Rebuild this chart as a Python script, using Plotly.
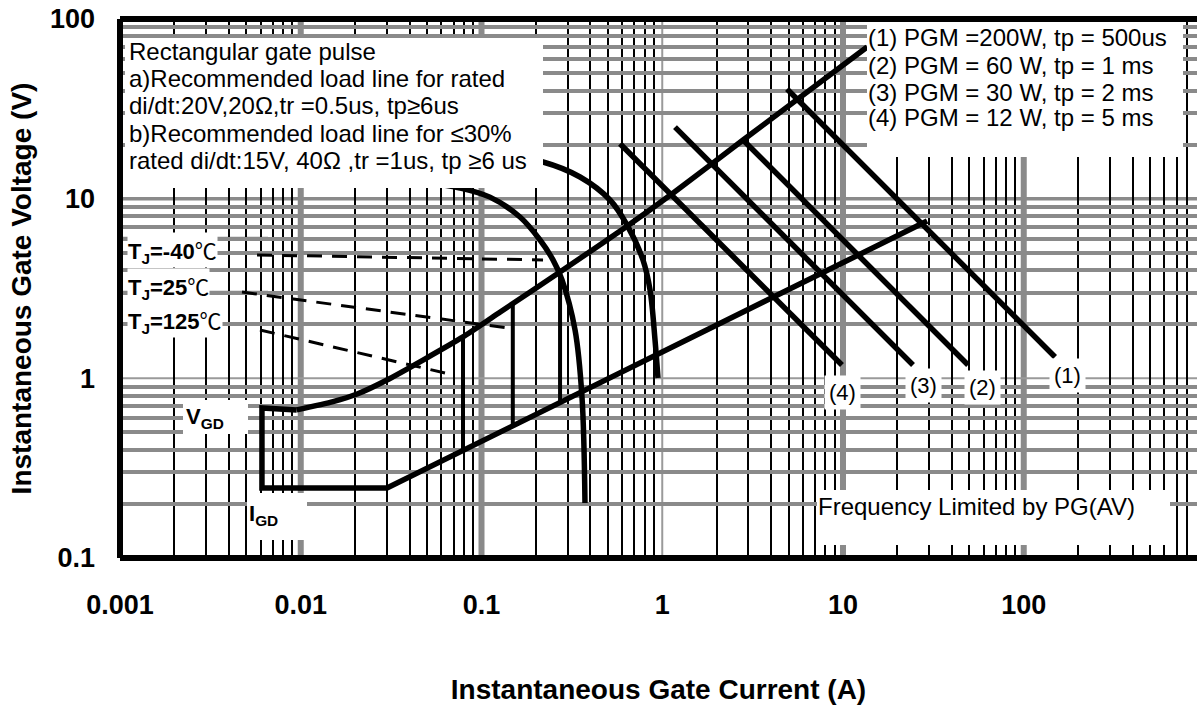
import math
import plotly.graph_objects as go

# ---------------- axis ticks ----------------
x_tick_vals = [0.001, 0.01, 0.1, 1, 10, 100]
x_tick_text = ["0.001", "0.01", "0.1", "1", "10", "100"]
y_tick_vals = [0.1, 1, 10, 100]
y_tick_text = ["0.1", "1", "10", "100"]
x_decades = [-3, -2, -1, 0, 1, 2]
y_decades = [-1, 0, 1]
minor_mults = [2, 3, 4, 5, 6, 7, 8, 9]
x_heavy_lines = [0.01, 0.1, 10, 100]
x_light_lines = [1]
y_heavy_lines = [10]
y_light_lines = [1]

# ---------------- gate characteristic ----------------
# outline: lower boundary, I_GD floor, V_GD wall
gate_low_I = [29.2, 0.030, 0.0061, 0.0061, 0.0095]
gate_low_V = [7.51, 0.245, 0.245, 0.684, 0.667]
# upper boundary curve
gate_up_I = [0.0095, 0.0151, 0.0205, 0.030, 0.079, 0.127, 0.282, 0.607, 1.15, 2.80, 13.6]
gate_up_V = [0.667, 0.742, 0.818, 0.979, 1.70, 2.34, 4.01, 6.78, 10.75, 21.2, 69.9]

# temperature boundaries inside the characteristic
tj_I = [0.079, 0.149, 0.272]
tj_V_top = [1.70, 2.60, 3.95]
tj_V_bottom = [0.40, 0.545, 0.734]

tj_temps = ["-40", "25", "125"]
tj_lead_I_start = [0.00573, 0.00473, 0.00595]
tj_lead_V_start = [4.86, 3.02, 1.858]
tj_lead_I_end = [0.219, 0.140, 0.0628]
tj_lead_V_end = [4.56, 1.906, 1.071]

# ---------------- recommended load lines ----------------
load_a_I = [0.127, 0.219, 0.351, 0.514, 0.638, 0.782, 0.856, 0.912, 0.947]
load_a_V = [17.5, 16.0, 13.2, 9.83, 7.14, 4.56, 3.10, 1.635, 1.005]
load_b_I = [0.0457, 0.0760, 0.1114, 0.1633, 0.2108, 0.2486, 0.2789, 0.3293, 0.3597, 0.3737]
load_b_V = [12.4, 11.47, 10.2, 7.91, 5.89, 4.56, 3.53, 1.858, 0.787, 0.2024]

# ---------------- peak gate power lines ----------------
pgm_labels = ["(1)", "(2)", "(3)", "(4)"]
pgm_legend = ["(1) PGM =200W, tp = 500us", "(2) PGM = 60 W, tp = 1 ms",
              "(3) PGM = 30 W, tp = 2 ms", "(4) PGM = 12 W, tp = 5 ms"]
pgm_I_start = [4.90, 2.80, 1.176, 0.584]
pgm_V_start = [40.8, 21.2, 25.0, 20.2]
pgm_I_end = [149.0, 49.2, 24.4, 9.87]
pgm_V_end = [1.315, 1.186, 1.186, 1.186]

note_lines = ["Rectangular gate pulse",
              "a)Recommended load line for rated",
              "di/dt:20V,20Ω,tr =0.5us, tp≥6us",
              "b)Recommended load line for ≤30%",
              "rated di/dt:15V, 40Ω ,tr =1us, tp ≥6 us"]
freq_text = "Frequency Limited by PG(AV)"

# ---------------- layout geometry ----------------
W, H = 1197, 707
L, R, T, B = 120, 0, 19, 149
PW, PH = W - L - R, H - T - B
X_DEC = 180.75


def px_x(p):
    return (p - L) / PW


def px_y(p):
    return (H - B - p) / PH


FONT = "Liberation Sans, Arial, sans-serif"
GRAY = "#8a8a8a"
LW = 5.5
x_minor = [m * 10.0 ** k for k in x_decades for m in minor_mults]
y_minor = [m * 10.0 ** k for k in y_decades for m in minor_mults]

fig = go.Figure()

line_style = dict(color="black", width=LW)

fig.add_trace(go.Scatter(x=gate_low_I, y=gate_low_V, mode="lines", line=line_style,
                         hoverinfo="skip"))
fig.add_trace(go.Scatter(x=gate_up_I, y=gate_up_V, mode="lines",
                         line=dict(color="black", width=LW, shape="spline", smoothing=0.6),
                         hoverinfo="skip"))

vx, vy = [], []
for i, tv, bv in zip(tj_I, tj_V_top, tj_V_bottom):
    vx += [i, i, None]
    vy += [tv, bv, None]
fig.add_trace(go.Scatter(x=vx, y=vy, mode="lines", line=dict(color="black", width=4),
                         hoverinfo="skip"))

for xs, ys, xe, ye in zip(tj_lead_I_start, tj_lead_V_start, tj_lead_I_end, tj_lead_V_end):
    fig.add_trace(go.Scatter(x=[xs, xe], y=[ys, ye], mode="lines",
                             line=dict(color="black", width=3, dash="15px,10px"),
                             hoverinfo="skip"))

fig.add_trace(go.Scatter(x=load_a_I, y=load_a_V, mode="lines",
                         line=dict(color="black", width=LW, shape="spline"), hoverinfo="skip"))
fig.add_trace(go.Scatter(x=load_b_I, y=load_b_V, mode="lines",
                         line=dict(color="black", width=LW, shape="spline"), hoverinfo="skip"))

for xs, ys, xe, ye in zip(pgm_I_start, pgm_V_start, pgm_I_end, pgm_V_end):
    fig.add_trace(go.Scatter(x=[xs, xe], y=[ys, ye], mode="lines", line=line_style,
                             hoverinfo="skip"))

shapes = []
# decade grid lines
for v in x_heavy_lines:
    shapes.append(dict(type="line", xref="x", yref="paper", x0=v, x1=v, y0=0, y1=1,
                       line=dict(color=GRAY, width=6), layer="below"))
for v in x_light_lines:
    shapes.append(dict(type="line", xref="x", yref="paper", x0=v, x1=v, y0=0, y1=1,
                       line=dict(color="#9a9a9a", width=2), layer="below"))
for v in y_heavy_lines:
    shapes.append(dict(type="line", xref="paper", yref="y", x0=0, x1=1, y0=v, y1=v,
                       line=dict(color=GRAY, width=3.5), layer="below"))
for v in y_light_lines:
    shapes.append(dict(type="line", xref="paper", yref="y", x0=0, x1=1, y0=v, y1=v,
                       line=dict(color="#9a9a9a", width=2), layer="below"))


def mask(x0, y0, x1, y1, layer="above"):
    return dict(type="rect", xref="paper", yref="paper",
                x0=px_x(x0), x1=px_x(x1), y0=px_y(y1), y1=px_y(y0),
                fillcolor="white", line=dict(width=0), layer=layer)


# white region behind the T_J labels (hides the vertical grid only)
shapes.append(mask(123, 230, 268, 362, layer="between"))
for v in y_minor:
    pos = H - B - (math.log10(v) + 1) * PH / 3
    if 230 <= pos <= 362:
        shapes.append(dict(type="line", xref="paper", yref="y", x0=0, x1=px_x(268),
                           y0=v, y1=v, line=dict(color=GRAY, width=3.5), layer="between"))

# text boxes
shapes.append(mask(125, 38, 543, 188))
shapes.append(mask(867, 19, 1183, 157))
shapes.append(mask(817, 490, 1170, 545))
shapes.append(mask(183, 400, 248, 434))
shapes.append(mask(247, 493, 307, 540))

# frame
for x0, y0, x1, y1 in [(0, 0, 0, 1), (0, 1, 1, 1), (0, 0, 1, 0)]:
    shapes.append(dict(type="line", xref="paper", yref="paper", x0=x0, x1=x1, y0=y0, y1=y1,
                       line=dict(color="black", width=6), layer="above"))

annotations = []
note_y = [51, 78, 105, 133, 160]
for t, yy in zip(note_lines, note_y):
    annotations.append(dict(text=t, xref="paper", yref="paper", x=px_x(127), y=px_y(yy),
                            xanchor="left", yanchor="middle", showarrow=False,
                            font=dict(family=FONT, size=24, color="black")))
leg_y = [38, 65, 92, 118]
for t, yy in zip(pgm_legend, leg_y):
    annotations.append(dict(text=t, xref="paper", yref="paper", x=px_x(866), y=px_y(yy),
                            xanchor="left", yanchor="middle", showarrow=False,
                            font=dict(family=FONT, size=24, color="black")))
annotations.append(dict(text=freq_text, xref="paper", yref="paper", x=px_x(816), y=px_y(506),
                        xanchor="left", yanchor="middle", showarrow=False,
                        font=dict(family=FONT, size=24, color="black")))

tj_y = [250, 286, 320]
for t, yy in zip(tj_temps, tj_y):
    txt = ("T<sub>J</sub>=" + t +
           "<span style='font-family:Noto Sans CJK SC;font-weight:normal'>℃</span>")
    annotations.append(dict(text=txt, xref="paper", yref="paper", x=px_x(127), y=px_y(yy),
                            xanchor="left", yanchor="middle", showarrow=False,
                            bgcolor="white", borderpad=0,
                            font=dict(family=FONT, size=22, color="black", weight="bold")))
annotations.append(dict(text="V<sub>GD</sub>", xref="paper", yref="paper", x=px_x(184),
                        y=px_y(418), xanchor="left", yanchor="middle", showarrow=False,
                        font=dict(family=FONT, size=22, color="black", weight="bold")))
annotations.append(dict(text="I<sub>GD</sub>", xref="paper", yref="paper", x=px_x(247),
                        y=px_y(515), xanchor="left", yanchor="middle", showarrow=False,
                        font=dict(family=FONT, size=22, color="black", weight="bold")))

# numbered labels under the power lines (log axes: positions in log10 units)
label_shift = [(12, -19), (14, -22), (10, -20), (1, -27)]
for t, xe, ye, (dx, dy) in zip(pgm_labels, pgm_I_end, pgm_V_end, label_shift):
    annotations.append(dict(text=t, xref="x", yref="y", x=math.log10(xe), y=math.log10(ye),
                            xshift=dx, yshift=dy,
                            xanchor="center", yanchor="middle", showarrow=False,
                            bgcolor="white", borderpad=4,
                            font=dict(family=FONT, size=22, color="black")))

fig.update_layout(
    width=W, height=H,
    margin=dict(l=L, r=R, t=T, b=B, autoexpand=False),
    plot_bgcolor="white", paper_bgcolor="white",
    showlegend=False,
    shapes=shapes,
    annotations=annotations,
    xaxis=dict(type="log", range=[-3, -3 + PW / X_DEC], tickmode="array",
               tickvals=x_tick_vals, ticktext=x_tick_text, showgrid=False,
               zeroline=False, showline=False, ticks="", ticklabelstandoff=28,
               tickfont=dict(family=FONT, size=27, color="black", weight="bold"),
               minor=dict(tickmode="array", tickvals=x_minor, showgrid=True,
                          gridcolor="black", gridwidth=2, ticks=""),
               title=dict(text="Instantaneous Gate Current (A)", standoff=60,
                          font=dict(family=FONT, size=28, color="black", weight="bold")),
               automargin=False),
    yaxis=dict(type="log", range=[-1, 2], tickmode="array",
               tickvals=y_tick_vals, ticktext=y_tick_text, showgrid=False,
               zeroline=False, showline=False, ticks="", ticklabelstandoff=24,
               tickfont=dict(family=FONT, size=27, color="black", weight="bold"),
               minor=dict(tickmode="array", tickvals=y_minor, showgrid=True,
                          gridcolor=GRAY, gridwidth=3.5, ticks=""),
               title=dict(text="Instantaneous Gate Voltage (V)", standoff=10,
                          font=dict(family=FONT, size=28, color="black", weight="bold")),
               automargin=False),
)

fig.write_html("out.html")
